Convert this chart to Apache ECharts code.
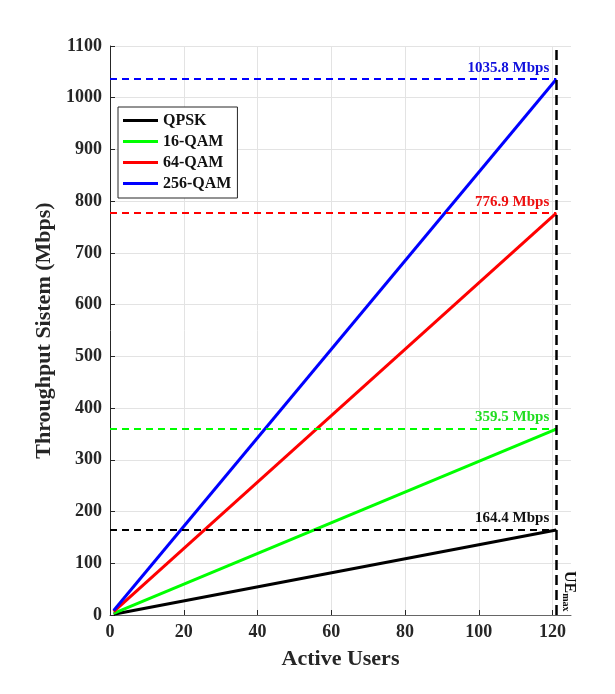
<!DOCTYPE html>
<html>
<head>
<meta charset="utf-8">
<script src="https://cdn.jsdelivr.net/npm/echarts@6/dist/echarts.min.js"></script>
<style>
  html, body { margin: 0; padding: 0; background: #fff; }
  #chart { width: 615px; height: 694px; }
</style>
</head>
<body>
<div id="chart"></div>
<script>
// active users (start and end of each line)
const users = [1, 121];
const qpsk = [1.4, 164.4];
const qam16 = [3.0, 359.5];
const qam64 = [6.4, 776.9];
const qam256 = [8.6, 1035.8];
const seriesNames = ["QPSK", "16-QAM", "64-QAM", "256-QAM"];
const seriesColors = ["#000000", "#00ff00", "#ff0000", "#0000ff"];
const labelColors = ["#111111", "#22dd22", "#ee1111", "#1111dd"];
const ueMax = 121;

const font = "'Liberation Serif', 'Times New Roman', serif";
const allValues = [qpsk, qam16, qam64, qam256];

const chart = echarts.init(document.getElementById("chart"));

const series = allValues.map((vals, i) => {
  const last = vals[vals.length - 1];
  return {
    name: seriesNames[i],
    type: "line",
    symbol: "none",
    data: users.map((u, k) => [u, vals[k]]),
    lineStyle: { color: seriesColors[i], width: 3 },
    itemStyle: { color: seriesColors[i] },
    z: 3,
    markLine: {
      silent: true,
      symbol: ["none", "none"],
      animation: false,
      lineStyle: { color: seriesColors[i], type: [7, 5], width: 2 },
      label: {
        show: true,
        position: "insideEndTop",
        distance: [7, 4],
        formatter: last.toFixed(1) + " Mbps",
        color: labelColors[i],
        fontFamily: font,
        fontWeight: "bold",
        fontSize: 15
      },
      data: [[{ coord: [0, last] }, { coord: [ueMax, last] }]]
    }
  };
});

// vertical UE max line
series.push({
  name: "ue",
  type: "line",
  symbol: "none",
  data: [],
  markLine: {
    silent: true,
    symbol: ["none", "none"],
    animation: false,
    lineStyle: { color: "#000", type: [10, 5], width: 2.5 },
    label: { show: false },
    data: [[{ coord: [ueMax, 0] }, { coord: [ueMax, 1100] }]]
  }
});

chart.setOption({
  animation: false,
  backgroundColor: "#fff",
  grid: { left: 110, right: 44, top: 46, bottom: 79 },
  legend: {
    data: seriesNames,
    orient: "vertical",
    left: 118,
    top: 107,
    icon: "rect",
    itemWidth: 35,
    itemHeight: 3,
    itemGap: 4,
    padding: [5, 6, 6, 5],
    borderColor: "#262626",
    borderWidth: 1,
    backgroundColor: "#fff",
    textStyle: { fontFamily: font, fontWeight: "bold", fontSize: 16, color: "#111", lineHeight: 17 }
  },
  xAxis: {
    type: "value",
    min: 0,
    max: 125,
    interval: 20,
    name: "Active Users",
    nameLocation: "middle",
    nameGap: 33,
    nameTextStyle: { fontFamily: font, fontWeight: "bold", fontSize: 22, color: "#262626" },
    axisLine: { lineStyle: { color: "#666", width: 1 } },
    axisTick: { inside: true, length: 5, lineStyle: { color: "#262626" } },
    axisLabel: {
      showMaxLabel: false,
      margin: 8,
      fontFamily: font,
      fontWeight: "bold",
      fontSize: 18,
      color: "#262626"
    },
    splitLine: { show: true, showMaxLine: false, lineStyle: { color: "#e3e3e3", width: 1 } }
  },
  yAxis: {
    type: "value",
    min: 0,
    max: 1100,
    interval: 100,
    name: "Throughput Sistem (Mbps)",
    nameLocation: "middle",
    nameGap: 52,
    nameTextStyle: { fontFamily: font, fontWeight: "bold", fontSize: 22, color: "#262626" },
    axisLine: { show: true, lineStyle: { color: "#262626", width: 1 } },
    axisTick: { show: true, inside: true, length: 5, lineStyle: { color: "#262626" } },
    axisLabel: {
      margin: 8,
      formatter: (v) => String(v),
      fontFamily: font,
      fontWeight: "bold",
      fontSize: 18,
      color: "#262626"
    },
    splitLine: { show: true, lineStyle: { color: "#e3e3e3", width: 1 } }
  },
  series: series
});

// UE_max text next to the vertical line, placed through the chart's scales
const p = chart.convertToPixel({ gridIndex: 0 }, [ueMax, 0]);
const pTop = chart.convertToPixel({ gridIndex: 0 }, [ueMax, 85]);
chart.setOption({
  graphic: [{
    type: "text",
    x: p[0] + 4,
    y: pTop[1],
    rotation: -Math.PI / 2,
    style: {
      text: "{a|UE}{b|max}",
      align: "left",
      verticalAlign: "bottom",
      rich: {
        a: { fontFamily: font, fontWeight: "bold", fontSize: 16, fill: "#111", lineHeight: 18 },
        b: { fontFamily: font, fontWeight: "bold", fontSize: 10, fill: "#111", verticalAlign: "bottom", padding: [8, 0, 0, 0] }
      }
    }
  }]
});
</script>
</body>
</html>
